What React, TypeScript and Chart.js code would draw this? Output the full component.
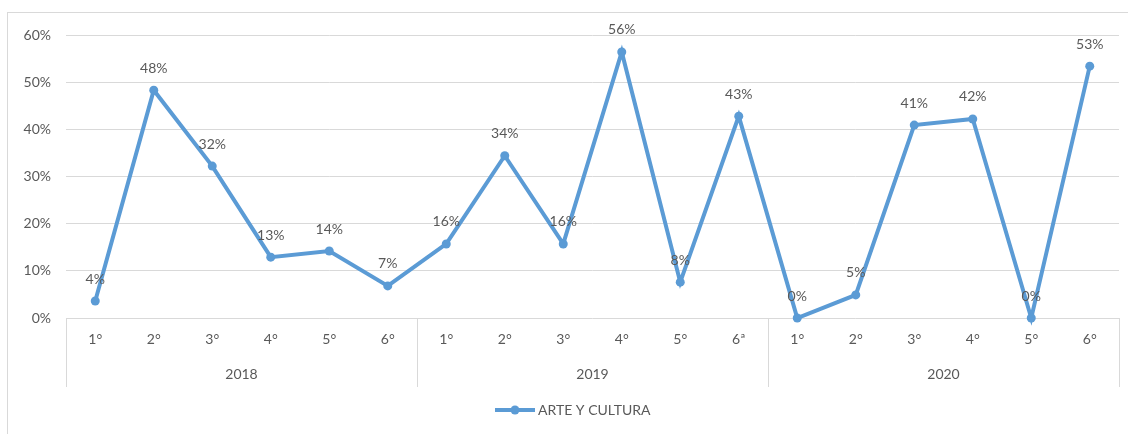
import React, { useEffect, useRef } from "react";
import { Chart, registerables } from "chart.js";

Chart.register(...registerables);

const gradeLabels = ["1°", "2°", "3°", "4°", "5°", "6°", "1°", "2°", "3°", "4°", "5°", "6ª", "1°", "2°", "3°", "4°", "5°", "6°"];
const yearLabels = ["2018", "2019", "2020"];
const groupSizes = [6, 6, 6];
const seriesName = "ARTE Y CULTURA";
const seriesValues = [3.6, 48.3, 32.2, 12.9, 14.2, 6.8, 15.7, 34.4, 15.7, 56.4, 7.6, 42.8, 0, 4.9, 40.9, 42.2, 0, 53.4];
const yTicks = [0, 10, 20, 30, 40, 50, 60];

const FONT = "Lato, 'Open Sans', sans-serif";
const TEXT = "#595959";
const GRID = "#D9D9D9";
const LINE = "#5B9BD5";

const framePlugin = {
  id: "frame",
  beforeDraw(chart: any) {
    const ctx = chart.ctx;
    ctx.save();
    ctx.fillStyle = "#ffffff";
    ctx.fillRect(0, 0, chart.width, chart.height);
    ctx.strokeStyle = GRID;
    ctx.lineWidth = 1;
    ctx.strokeRect(7.5, 12.5, chart.width + 20, chart.height + 20);
    ctx.restore();
  },
};

const groupAxisPlugin = {
  id: "groupAxis",
  afterDraw(chart: any) {
    const ctx = chart.ctx;
    const x = chart.scales.x;
    const area = chart.chartArea;
    ctx.save();
    ctx.strokeStyle = GRID;
    ctx.lineWidth = 1;
    const bounds: number[] = [area.left];
    let idx = 0;
    groupSizes.forEach((n, g) => {
      idx += n;
      if (g < groupSizes.length - 1) {
        bounds.push((x.getPixelForValue(idx - 1) + x.getPixelForValue(idx)) / 2);
      }
    });
    bounds.push(area.right);
    bounds.forEach((bx) => {
      const px = Math.round(bx) + 0.5;
      ctx.beginPath();
      ctx.moveTo(px, area.bottom);
      ctx.lineTo(px, area.bottom + 69);
      ctx.stroke();
    });
    ctx.fillStyle = TEXT;
    ctx.font = `14px ${FONT}`;
    ctx.textAlign = "center";
    ctx.textBaseline = "middle";
    yearLabels.forEach((lab, i) => {
      ctx.fillText(lab, (bounds[i] + bounds[i + 1]) / 2, area.bottom + 56);
    });

    // legend (line + marker + text)
    const ly = 410;
    ctx.strokeStyle = LINE;
    ctx.lineWidth = 4;
    ctx.beginPath();
    ctx.moveTo(495, ly);
    ctx.lineTo(535, ly);
    ctx.stroke();
    ctx.fillStyle = LINE;
    ctx.beginPath();
    ctx.arc(515, ly, 4.5, 0, Math.PI * 2);
    ctx.fill();
    ctx.fillStyle = TEXT;
    ctx.textAlign = "left";
    ctx.fillText(seriesName, 538, ly);
    ctx.restore();
  },
};

const dataLabelPlugin = {
  id: "dataLabels",
  afterDatasetsDraw(chart: any) {
    const ctx = chart.ctx;
    const meta = chart.getDatasetMeta(0);
    ctx.save();
    ctx.fillStyle = TEXT;
    ctx.font = `14px ${FONT}`;
    ctx.textAlign = "center";
    ctx.textBaseline = "middle";
    meta.data.forEach((pt: any, i: number) => {
      ctx.fillText(Math.round(seriesValues[i]) + "%", pt.x, pt.y - 22);
    });
    ctx.restore();
  },
};

export default function App() {
  const ref = useRef<HTMLCanvasElement>(null);
  useEffect(() => {
    if (!ref.current) return;
    const chart = new Chart(ref.current, {
      type: "line",
      data: {
        labels: gradeLabels,
        datasets: [
          {
            label: seriesName,
            data: seriesValues,
            borderColor: LINE,
            backgroundColor: LINE,
            borderWidth: 4,
            pointRadius: 4.5,
            pointStyle: "circle",
            pointBackgroundColor: LINE,
            pointBorderWidth: 0,
            tension: 0,
            clip: false as any,
          },
        ],
      },
      options: {
        responsive: false,
        animation: false,
        layout: { padding: { left: 0, right: 9, top: 35, bottom: 0 } },
        plugins: {
          tooltip: { enabled: false },
          legend: { display: false },
        },
        scales: {
          x: {
            offset: true,
            grid: { display: false, drawTicks: false },
            border: { display: false },
            ticks: {
              color: TEXT,
              font: { family: FONT, size: 14 },
              padding: 13,
              autoSkip: false,
              maxRotation: 0,
            },
            afterFit: (scale: any) => {
              scale.height = 434 - 318;
            },
          },
          y: {
            min: 0,
            max: 60,
            grid: { color: GRID, lineWidth: 1, drawTicks: false },
            border: { display: false },
            afterBuildTicks: (scale: any) => {
              scale.ticks = yTicks.map((v) => ({ value: v }));
            },
            afterFit: (scale: any) => {
              scale.width = 66;
            },
            ticks: {
              color: TEXT,
              font: { family: FONT, size: 14 },
              padding: 15,
              callback: (v: any) => v + "%",
            },
          },
        },
      },
      plugins: [framePlugin, groupAxisPlugin, dataLabelPlugin],
    });
    return () => chart.destroy();
  }, []);
  return (
    <div style={{ position: "fixed", left: 0, top: 0, width: 1128, height: 434 }}>
      <canvas ref={ref} width={1128} height={434} style={{ display: "block" }} />
    </div>
  );
}
